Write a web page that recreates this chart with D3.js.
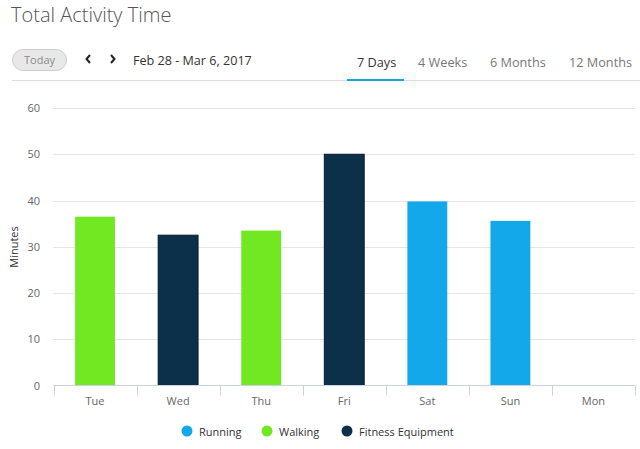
<!DOCTYPE html>
<html>
<head>
<meta charset="utf-8">
<script src="https://cdn.jsdelivr.net/npm/d3@7"></script>
<style>
  body { margin: 0; background: #fff; font-family: "Open Sans", sans-serif; }
</style>
</head>
<body>
<div id="chart"></div>
<script>
// Data
const days = ["Tue", "Wed", "Thu", "Fri", "Sat", "Sun", "Mon"];
const activity = ["Walking", "Fitness Equipment", "Walking", "Fitness Equipment", "Running", "Running", null];
const minutes = [36.5, 32.5, 33.5, 50, 39.8, 35.6, 0];
const yTicks = [0, 10, 20, 30, 40, 50, 60];
const legendNames = ["Running", "Walking", "Fitness Equipment"];
const tabs = ["7 Days", "4 Weeks", "6 Months", "12 Months"];

const color = d3.scaleOrdinal()
  .domain(legendNames)
  .range(["#12a8e9", "#72e823", "#0c3049"]);

const W = 640, H = 449;
const svg = d3.select("#chart").append("svg")
  .attr("width", W).attr("height", H);

// header
svg.append("text")
  .attr("x", 11).attr("y", 22)
  .attr("font-size", 20).attr("font-weight", 300)
  .attr("fill", "#555")
  .text("Total Activity Time");

svg.append("rect")
  .attr("x", 12.5).attr("y", 49.5).attr("width", 54).attr("height", 21)
  .attr("rx", 10.5)
  .attr("fill", "#e8e8e8").attr("stroke", "#cfcfcf");
svg.append("text")
  .attr("x", 39.5).attr("y", 64)
  .attr("text-anchor", "middle").attr("font-size", 11)
  .attr("fill", "#888").text("Today");

// prev / next arrows
svg.append("path")
  .attr("d", "M90,55 L86.5,59 L90,63")
  .attr("fill", "none").attr("stroke", "#222").attr("stroke-width", 2);
svg.append("path")
  .attr("d", "M111,55 L114.5,59 L111,63")
  .attr("fill", "none").attr("stroke", "#222").attr("stroke-width", 2);

svg.append("text")
  .attr("x", 133).attr("y", 65)
  .attr("font-size", 12.6).attr("fill", "#333")
  .text("Feb 28 - Mar 6, 2017");

const tabX = [357, 418, 490, 569];
svg.selectAll(".tab").data(tabs).join("text")
  .attr("class", "tab")
  .attr("x", (d, i) => tabX[i]).attr("y", 67)
  .attr("font-size", 12.7)
  .attr("fill", (d, i) => i === 0 ? "#333" : "#777")
  .text(d => d);

svg.append("line")
  .attr("x1", 12).attr("x2", W).attr("y1", 80.5).attr("y2", 80.5)
  .attr("stroke", "#ddd");
svg.append("line")
  .attr("x1", 347).attr("x2", 404).attr("y1", 80).attr("y2", 80)
  .attr("stroke", "#1aa3e0").attr("stroke-width", 2);

// chart
const x = d3.scaleBand().domain(days).range([53.5, 635]).paddingInner(0.52).paddingOuter(0.26);
const xb = d3.scaleBand().domain(days).range([53.5, 635]);
const y = d3.scaleLinear().domain([0, 60]).range([385.5, 108]);

const grid = svg.append("g");
grid.selectAll("line").data(yTicks.filter(d => d > 0)).join("line")
  .attr("x1", 53).attr("x2", 635)
  .attr("y1", d => Math.round(y(d)) + 0.5).attr("y2", d => Math.round(y(d)) + 0.5)
  .attr("stroke", "#e6e6e6");

svg.append("g")
  .selectAll("text").data(yTicks).join("text")
  .attr("x", 40).attr("y", d => y(d) + 4)
  .attr("text-anchor", "end").attr("font-size", 11).attr("fill", "#666")
  .text(d => d);

svg.append("text")
  .attr("transform", "translate(18,247) rotate(-90)")
  .attr("text-anchor", "middle").attr("font-size", 11).attr("fill", "#333")
  .text("Minutes");

// bars
svg.append("g").selectAll("rect")
  .data(days.map((d, i) => ({ day: d, act: activity[i], v: minutes[i] })).filter(d => d.v > 0))
  .join("rect")
  .attr("x", d => x(d.day))
  .attr("y", d => y(d.v))
  .attr("width", x.bandwidth())
  .attr("height", d => y(0) - y(d.v))
  .attr("fill", d => color(d.act))
  .attr("stroke", d => d.act === "Fitness Equipment" ? "#06192a" : "none")
  .attr("stroke-width", 1);

// x axis
const xAxis = svg.append("g").attr("transform", "translate(0,385.5)");
xAxis.append("line").attr("x1", 53.5).attr("x2", 635).attr("stroke", "#ccd2e0");
xAxis.selectAll(".tk").data(days.concat(["end"])).join("line")
  .attr("class", "tk")
  .attr("x1", (d, i) => Math.round(53.5 + i * xb.bandwidth()) + 0.5)
  .attr("x2", (d, i) => Math.round(53.5 + i * xb.bandwidth()) + 0.5)
  .attr("y1", 0).attr("y2", 10)
  .attr("stroke", "#ccd2e0");
xAxis.selectAll("text").data(days).join("text")
  .attr("x", d => xb(d) + xb.bandwidth() / 2).attr("y", 19)
  .attr("text-anchor", "middle").attr("font-size", 11).attr("fill", "#666")
  .text(d => d);

// legend
const legX = [187, 267, 347];
const leg = svg.append("g").selectAll("g").data(legendNames).join("g")
  .attr("transform", (d, i) => `translate(${legX[i]},431)`);
leg.append("circle").attr("r", 5.5).attr("fill", d => color(d));
leg.append("text").attr("x", 12).attr("y", 4.5)
  .attr("font-size", 11).attr("fill", "#333").text(d => d);
</script>
</body>
</html>
